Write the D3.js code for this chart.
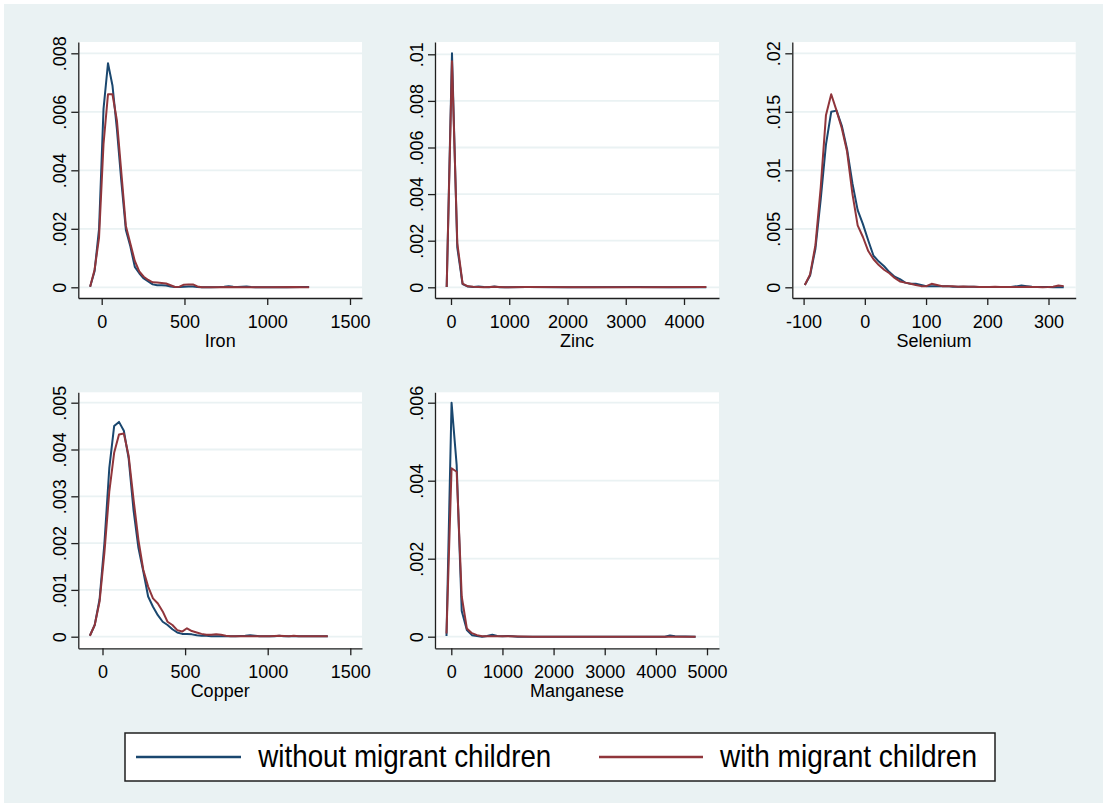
<!DOCTYPE html>
<html>
<head>
<meta charset="utf-8">
<script src="https://cdn.jsdelivr.net/npm/d3@7/dist/d3.min.js"></script>
<style>
  html, body { margin: 0; padding: 0; background: #ffffff; }
  svg { display: block; }
</style>
</head>
<body>
<script>
// Kernel density estimates of nutrient intake, by household type.
const seriesNames = ["without migrant children", "with migrant children"];
const seriesColors = ["#1a476f", "#90353b"];

// ---- Iron ----
const ironXTicks = [0, 500, 1000, 1500];
const ironYTicks = [0, 0.002, 0.004, 0.006, 0.008];
const ironYLabels = ["0", ".002", ".004", ".006", ".008"];
const ironWithout = [
  [-70, 0.00002], [-43, 0.00055], [-16, 0.0020], [11, 0.0061], [38, 0.00766], [65, 0.0069],
  [92, 0.0054], [119, 0.0036], [146, 0.00196], [173, 0.0014], [200, 0.0007], [227, 0.00048],
  [254, 0.0003], [281, 0.0002], [308, 0.0001], [335, 0.00007], [362, 0.00007], [389, 0.00006],
  [416, 0.00003], [443, 0.00001], [470, 0.00001], [497, 0.00002], [524, 0.00003], [551, 0.00003],
  [578, 0.00001], [605, 0], [659, 0], [713, 0.00001], [740, 0.00002], [767, 0.00004], [794, 0.00002],
  [821, 0.00001], [848, 0.00002], [875, 0.00003], [902, 0.00001], [929, 0], [1010, 0], [1118, 0],
  [1199, 0.00001], [1226, 0.00001], [1253, 0.00001]
];
const ironWith = [
  [-70, 0.00002], [-43, 0.0006], [-16, 0.0017], [11, 0.0049], [38, 0.0066], [65, 0.0066],
  [92, 0.0057], [119, 0.0039], [146, 0.0021], [173, 0.0015], [200, 0.0009], [227, 0.00054],
  [254, 0.00036], [281, 0.00025], [308, 0.00017], [335, 0.00016], [362, 0.00015], [389, 0.00013],
  [416, 0.00007], [443, 0.00001], [470, 0.00002], [497, 0.00009], [524, 0.0001], [551, 0.0001],
  [578, 0.00003], [605, 0], [686, 0], [767, 0.00001], [848, 0], [1010, 0], [1172, 0.00001],
  [1226, 0], [1253, 0]
];

// ---- Zinc ----
const zincXTicks = [0, 1000, 2000, 3000, 4000];
const zincYTicks = [0, 0.002, 0.004, 0.006, 0.008, 0.01];
const zincYLabels = ["0", ".002", ".004", ".006", ".008", ".01"];
const zincWithout = [
  [-74, 0.00001], [17, 0.01004], [108, 0.0017], [199, 0.00014], [290, 0.00003], [381, 0.00001],
  [472, 0.00003], [563, 0.00001], [654, 0], [745, 0.00003], [836, 0], [1291, 0.00001],
  [2020, 0], [3203, 0.00001], [3749, 0], [4383, 0]
];
const zincWith = [
  [-74, 0.00001], [17, 0.0097], [108, 0.0019], [199, 0.00016], [290, 0.00004], [381, 0.00002],
  [472, 0.00001], [563, 0], [745, 0.00002], [927, 0], [1291, 0.00001], [2384, 0], [3294, 0],
  [4383, 0.00001]
];

// ---- Selenium ----
const seleniumXTicks = [-100, 0, 100, 200, 300];
const seleniumYTicks = [0, 0.005, 0.01, 0.015, 0.02];
const seleniumYLabels = ["0", ".005", ".01", ".015", ".02"];
const seleniumWithout = [
  [-98, 0.0002], [-89.4, 0.001], [-80.7, 0.0033], [-72.1, 0.0075], [-63.5, 0.0122], [-54.9, 0.0150],
  [-46.2, 0.0151], [-37.6, 0.0138], [-29.0, 0.0118], [-20.3, 0.0089], [-11.7, 0.0066], [-3.1, 0.0054],
  [5.6, 0.0040], [14.2, 0.0027], [22.8, 0.0022], [31.5, 0.0018], [40.1, 0.0013], [48.7, 0.0009],
  [57.3, 0.0007], [66.0, 0.0004], [74.6, 0.0003], [83.2, 0.0003], [91.9, 0.0002], [100.5, 0.0001],
  [109.1, 0.0001], [117.8, 0.0001], [126.4, 0.0001], [135.0, 0.0001], [143.7, 0.00005], [152.3, 0.00005],
  [160.9, 0.00005], [169.5, 0.00005], [178.2, 0.00004], [186.8, 0.00003], [195.4, 0.00002], [204.1, 0.00002],
  [212.7, 0.00003], [221.3, 0.00003], [230.0, 0.00002], [238.6, 0.00003], [247.2, 0.00008], [255.8, 0.00015],
  [264.5, 0.0001], [273.1, 0.00005], [281.7, 0.00003], [290.4, 0.00002], [299.0, 0.00002], [307.6, 0.00001],
  [316.3, 0.00001], [324.9, 0.00001]
];
const seleniumWith = [
  [-98, 0.0002], [-89.4, 0.0011], [-80.7, 0.0036], [-72.1, 0.0085], [-63.5, 0.0147], [-54.9, 0.0165],
  [-46.2, 0.0151], [-37.6, 0.0136], [-29.0, 0.0116], [-20.3, 0.0080], [-11.7, 0.0053], [-3.1, 0.0043],
  [5.6, 0.0031], [14.2, 0.0024], [22.8, 0.0019], [31.5, 0.0015], [40.1, 0.0012], [48.7, 0.0008],
  [57.3, 0.0005], [66.0, 0.0004], [74.6, 0.0003], [83.2, 0.0002], [91.9, 0.0001], [100.5, 0.0001],
  [109.1, 0.0003], [117.8, 0.0002], [126.4, 0.0001], [135.0, 0.0001], [143.7, 0.00008], [152.3, 0.00005],
  [160.9, 0.00006], [169.5, 0.00005], [178.2, 0.00004], [186.8, 0.00003], [195.4, 0.00002], [204.1, 0.00003],
  [212.7, 0.00004], [221.3, 0.00003], [230.0, 0.00002], [238.6, 0.00002], [247.2, 0.00002], [255.8, 0.00003],
  [264.5, 0.00004], [273.1, 0.00003], [281.7, 0.00002], [290.4, 0.00001], [299.0, 0.00002], [307.6, 0.00004],
  [316.3, 0.00015], [324.9, 0.0001]
];

// ---- Copper ----
const copperXTicks = [0, 500, 1000, 1500];
const copperYTicks = [0, 0.001, 0.002, 0.003, 0.004, 0.005];
const copperYLabels = ["0", ".001", ".002", ".003", ".004", ".005"];
const copperWithout = [
  [-76.5, 0.00002], [-47.1, 0.00025], [-17.7, 0.0008], [11.7, 0.0020], [41.1, 0.0036], [70.5, 0.0045],
  [99.8, 0.00459], [129.2, 0.0044], [158.6, 0.0038], [188.0, 0.0027], [217.4, 0.0019], [246.8, 0.0014],
  [276.2, 0.00086], [305.6, 0.00064], [335.0, 0.00046], [364.4, 0.00032], [393.7, 0.00025], [423.1, 0.00016],
  [452.5, 0.00009], [481.9, 0.00006], [511.3, 0.00006], [540.7, 0.00005], [570.1, 0.00003], [599.5, 0.00002],
  [628.9, 0.00002], [658.3, 0.00001], [717.0, 0.00001], [805.2, 0.00001], [864.0, 0.00002], [893.4, 0.00003],
  [922.8, 0.00002], [952.2, 0.00001], [1040.3, 0.00001], [1069.7, 0.00002], [1099.1, 0.00001],
  [1216.7, 0.00001], [1363.6, 0.00001]
];
const copperWith = [
  [-76.5, 0.00002], [-47.1, 0.00025], [-17.7, 0.00075], [11.7, 0.0018], [41.1, 0.0031], [70.5, 0.00393],
  [99.8, 0.00432], [129.2, 0.00434], [158.6, 0.00386], [188.0, 0.00293], [217.4, 0.00207], [246.8, 0.00143],
  [276.2, 0.00107], [305.6, 0.00082], [335.0, 0.00071], [364.4, 0.00054], [393.7, 0.00032], [423.1, 0.00025],
  [452.5, 0.00014], [481.9, 0.00011], [511.3, 0.00018], [540.7, 0.00012], [570.1, 0.00009], [599.5, 0.00006],
  [628.9, 0.00004], [658.3, 0.00004], [687.6, 0.00005], [717.0, 0.00004], [746.4, 0.00002], [775.8, 0.00001],
  [1010.9, 0.00001], [1069.7, 0.00002], [1128.5, 0.00001], [1157.9, 0.00002], [1187.3, 0.00001],
  [1363.6, 0.00001]
];

// ---- Manganese ----
const manganeseXTicks = [0, 1000, 2000, 3000, 4000, 5000];
const manganeseYTicks = [0, 0.002, 0.004, 0.006];
const manganeseYLabels = ["0", ".002", ".004", ".006"];
const manganeseWithout = [
  [-94, 0.00002], [5, 0.0060], [105, 0.0044], [204, 0.00066], [304, 0.00017], [403, 0.00004],
  [503, 0.00002], [602, 0], [701, 0.00002], [801, 0.00005], [900, 0.00002], [1000, 0.00001],
  [1099, 0.00002], [1198, 0.00001], [1298, 0], [2290, 0], [3283, 0], [4176, 0], [4275, 0.00003],
  [4375, 0.00001], [4777, 0]
];
const manganeseWith = [
  [-94, 0.00008], [5, 0.00432], [105, 0.00423], [204, 0.00103], [304, 0.00021], [403, 0.00009],
  [503, 0.00004], [602, 0.00001], [701, 0.00001], [900, 0.00001], [1099, 0.00001], [1596, 0],
  [2588, 0], [3581, 0], [4573, 0], [4777, 0]
];

// Panel geometry: plot frame [left, top, right, bottom], and pixel anchors for first/last ticks.
const panels = [
  { title: "Iron", frame: [78.3, 42, 362, 298], xTicks: ironXTicks, xAnchor: [101.7, 350],
    yTicks: ironYTicks, yLabels: ironYLabels, yAnchor: [287.3, 53.3], series: [ironWithout, ironWith] },
  { title: "Zinc", frame: [435, 42, 719, 298], xTicks: zincXTicks, xAnchor: [451, 684],
    yTicks: zincYTicks, yLabels: zincYLabels, yAnchor: [287.3, 54.3], series: [zincWithout, zincWith] },
  { title: "Selenium", frame: [792.3, 42, 1075.7, 298], xTicks: seleniumXTicks, xAnchor: [803.6, 1048.5],
    yTicks: seleniumYTicks, yLabels: seleniumYLabels, yAnchor: [287.3, 53.3], series: [seleniumWithout, seleniumWith] },
  { title: "Copper", frame: [78.3, 392.3, 362, 648.3], xTicks: copperXTicks, xAnchor: [102.5, 350.3],
    yTicks: copperYTicks, yLabels: copperYLabels, yAnchor: [636.7, 402.7], series: [copperWithout, copperWith] },
  { title: "Manganese", frame: [435, 392.3, 719, 648.3], xTicks: manganeseXTicks, xAnchor: [451.3, 707],
    yTicks: manganeseYTicks, yLabels: manganeseYLabels, yAnchor: [636.7, 402.7], series: [manganeseWithout, manganeseWith] }
];

const W = 1107, H = 807;
const FONT = "'Liberation Sans', Arial, Helvetica, sans-serif";
const BG = "#eaf2f3";
const AXIS = "#1f1f1f";

const svg = d3.select("body").append("svg").attr("width", W).attr("height", H);
svg.append("rect").attr("width", W).attr("height", H).attr("fill", "#ffffff");
svg.append("rect").attr("x", 4).attr("y", 4).attr("width", W - 8).attr("height", H - 8).attr("fill", BG);

panels.forEach(p => {
  const [x0, y0, x1, y1] = p.frame;
  const xt = p.xTicks, yt = p.yTicks;
  const xa = d3.scaleLinear().domain([xt[0], xt[xt.length - 1]]).range(p.xAnchor);
  const ya = d3.scaleLinear().domain([yt[0], yt[yt.length - 1]]).range(p.yAnchor);
  // scales spanning the full plot frame
  const x = d3.scaleLinear().domain([xa.invert(x0), xa.invert(x1)]).range([x0, x1]);
  const y = d3.scaleLinear().domain([ya.invert(y1), ya.invert(y0)]).range([y1, y0]);

  const g = svg.append("g");
  g.append("rect").attr("x", x0).attr("y", y0).attr("width", x1 - x0).attr("height", y1 - y0)
    .attr("fill", "#ffffff");

  g.append("g").selectAll("line").data(yt).join("line")
    .attr("x1", x0).attr("x2", x1)
    .attr("y1", d => y(d)).attr("y2", d => y(d))
    .attr("stroke", BG).attr("stroke-width", 1.8);

  const line = d3.line().x(d => x(d[0])).y(d => y(d[1]));
  p.series.forEach((s, i) => {
    g.append("path").datum(s).attr("d", line)
      .attr("fill", "none").attr("stroke", seriesColors[i])
      .attr("stroke-width", 2).attr("stroke-linejoin", "round");
  });

  // tick labels use a plain hyphen for negatives
  const xAxis = g.append("g").attr("transform", `translate(0,${y1})`)
    .call(d3.axisBottom(x).tickValues(xt).tickFormat(d => String(d)).tickSize(7).tickSizeOuter(0).tickPadding(6));
  xAxis.attr("font-family", FONT).attr("font-size", 18).attr("color", AXIS);
  xAxis.selectAll("path, line").attr("stroke-width", 1.3);
  xAxis.selectAll("text").attr("fill", "#000").attr("dy", null).attr("y", 30);

  const yAxis = g.append("g").attr("transform", `translate(${x0},0)`)
    .call(d3.axisLeft(y).tickValues(yt).tickFormat((d, i) => p.yLabels[i]).tickSize(7).tickSizeOuter(0));
  yAxis.attr("font-family", FONT).attr("font-size", 18).attr("color", AXIS);
  yAxis.selectAll("path, line").attr("stroke-width", 1.3);
  yAxis.selectAll("text").attr("fill", "#000").attr("x", null).attr("dy", null)
    .attr("text-anchor", "middle").attr("transform", "translate(-12,0) rotate(-90)");

  g.append("text").attr("x", (x0 + x1) / 2).attr("y", y1 + 48.5)
    .attr("text-anchor", "middle").attr("font-family", FONT).attr("font-size", 18)
    .attr("fill", "#000").text(p.title);
});

// Legend
const legend = svg.append("g");
legend.append("rect").attr("x", 125).attr("y", 733).attr("width", 870).attr("height", 48)
  .attr("fill", "#ffffff").attr("stroke", AXIS).attr("stroke-width", 1.5);
const legendItems = [
  { line: [136, 241], textX: 258.3, width: 293 },
  { line: [599, 703], textX: 720, width: 257 }
];
legendItems.forEach((it, i) => {
  legend.append("line").attr("x1", it.line[0]).attr("x2", it.line[1]).attr("y1", 757).attr("y2", 757)
    .attr("stroke", seriesColors[i]).attr("stroke-width", 2.5);
  legend.append("text").attr("x", it.textX).attr("y", 767.3)
    .attr("font-family", FONT).attr("font-size", 32).attr("fill", "#000")
    .attr("textLength", it.width).attr("lengthAdjust", "spacingAndGlyphs")
    .text(seriesNames[i]);
});
</script>
</body>
</html>
